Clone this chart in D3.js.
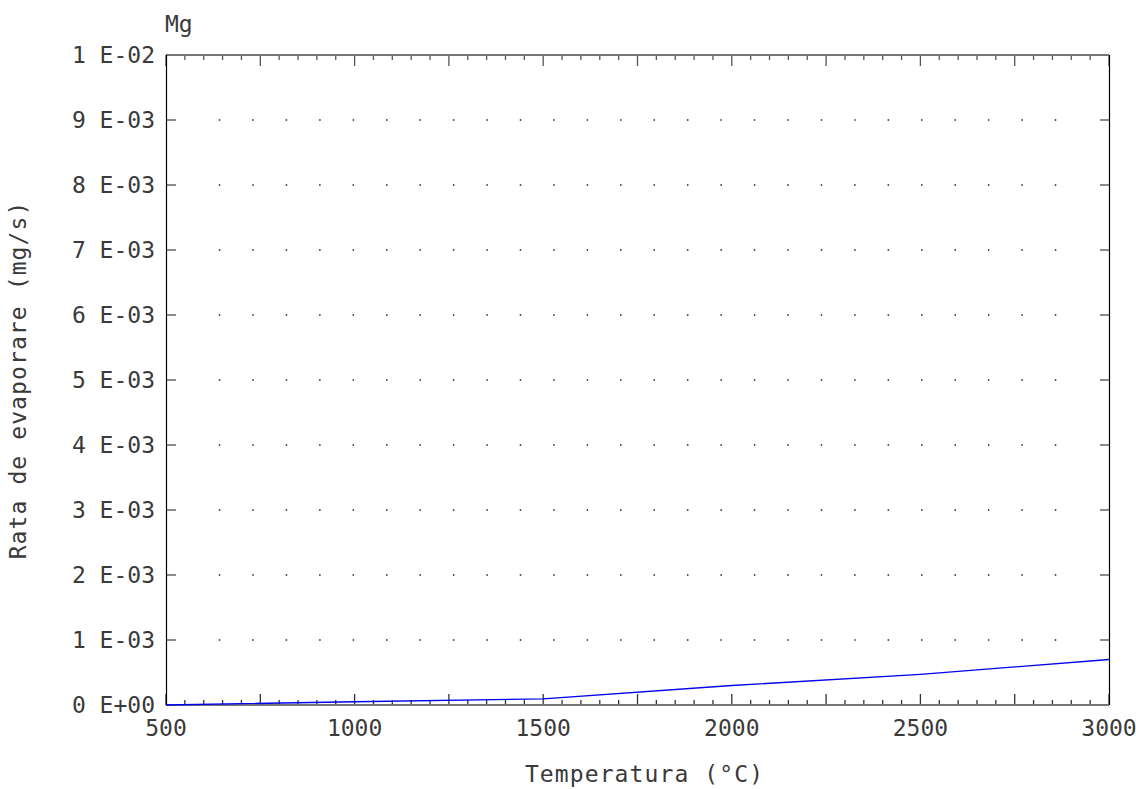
<!DOCTYPE html>
<html>
<head>
<meta charset="utf-8">
<script src="https://cdn.jsdelivr.net/npm/d3@7"></script>
<style>
  body { margin: 0; background: #fff; }
  text { font-family: "DejaVu Sans Mono", monospace; fill: #3a3a3a; }
</style>
</head>
<body>
<svg id="chart"></svg>
<script>
// data
var temps = [500, 1000, 1500, 2000, 2500, 3000];
var rates = [0, 0.00005, 0.000095, 0.0003, 0.00047, 0.0007];
var yTicks = [0, 0.001, 0.002, 0.003, 0.004, 0.005, 0.006, 0.007, 0.008, 0.009, 0.01];
var yTickLabels = ["0 E+00", "1 E-03", "2 E-03", "3 E-03", "4 E-03", "5 E-03",
                   "6 E-03", "7 E-03", "8 E-03", "9 E-03", "1 E-02"];
var xTicks = [500, 1000, 1500, 2000, 2500, 3000];

var margin = {top: 55, right: 27, bottom: 84, left: 166},
    W = 1136, H = 789,
    width = W - margin.left - margin.right,
    height = H - margin.top - margin.bottom;

var svg = d3.select("#chart")
    .attr("width", W)
    .attr("height", H);
var g = svg.append("g")
    .attr("transform", "translate(" + margin.left + "," + margin.top + ")");

var x = d3.scaleLinear().domain([500, 3000]).range([0, width]);
var y = d3.scaleLinear().domain([0, 0.01]).range([height, 0]);

// dotted grid
var dotX = d3.range(642, 2870, 88.65);
var dotY = yTicks.slice(1, -1);
dotY.forEach(function(v) {
    g.selectAll(null)
        .data(dotX)
        .enter().append("rect")
        .attr("x", function(d) { return x(d) - 0.75; })
        .attr("y", y(v) - 0.75)
        .attr("width", 1.5)
        .attr("height", 1.5)
        .attr("fill", "#222");
});

// x ticks (minor every 50, major every 250), bottom and top, pointing inside
var xMinor = d3.range(500, 3001, 50);
g.selectAll(".xb")
    .data(xMinor)
    .enter().append("line")
    .attr("x1", function(d) { return x(d); })
    .attr("x2", function(d) { return x(d); })
    .attr("y1", height)
    .attr("y2", function(d) { return height - (d % 250 == 0 ? 11 : 5); })
    .attr("stroke", "#333")
    .attr("stroke-width", 1.3);
g.selectAll(".xt")
    .data(xMinor)
    .enter().append("line")
    .attr("x1", function(d) { return x(d); })
    .attr("x2", function(d) { return x(d); })
    .attr("y1", 0)
    .attr("y2", function(d) { return (d % 250 == 0 ? 11 : 5); })
    .attr("stroke", "#555")
    .attr("stroke-width", 1.3);

// y ticks left and right
g.selectAll(".yl")
    .data(yTicks)
    .enter().append("line")
    .attr("x1", 0)
    .attr("x2", 10)
    .attr("y1", function(d) { return y(d); })
    .attr("y2", function(d) { return y(d); })
    .attr("stroke", "#666")
    .attr("stroke-width", 1.5);
g.selectAll(".yr")
    .data(yTicks)
    .enter().append("line")
    .attr("x1", width - 9)
    .attr("x2", width)
    .attr("y1", function(d) { return y(d); })
    .attr("y2", function(d) { return y(d); })
    .attr("stroke", "#666")
    .attr("stroke-width", 1.5);

// frame
g.append("line").attr("x1", 0).attr("x2", width).attr("y1", height).attr("y2", height)
    .attr("stroke", "#777").attr("stroke-width", 2);
g.append("line").attr("x1", 0).attr("x2", width).attr("y1", 0).attr("y2", 0)
    .attr("stroke", "#777").attr("stroke-width", 2);
g.append("line").attr("x1", 0.5).attr("x2", 0.5).attr("y1", 0).attr("y2", height)
    .attr("stroke", "#000").attr("stroke-width", 1.2);
g.append("line").attr("x1", width + 0.5).attr("x2", width + 0.5).attr("y1", 0).attr("y2", height)
    .attr("stroke", "#000").attr("stroke-width", 1.2);

// tick labels
g.selectAll(".ylab")
    .data(yTicks)
    .enter().append("text")
    .attr("x", -11)
    .attr("y", function(d) { return y(d); })
    .attr("dy", "0.36em")
    .attr("text-anchor", "end")
    .style("font-size", "23px")
    .text(function(d, i) { return yTickLabels[i]; });
g.selectAll(".xlab")
    .data(xTicks)
    .enter().append("text")
    .attr("x", function(d) { return x(d); })
    .attr("y", height + 31)
    .attr("text-anchor", "middle")
    .style("font-size", "23px")
    .text(function(d) { return d; });

// axis titles
g.append("text")
    .attr("x", width / 2 + 7)
    .attr("y", height + 77)
    .attr("text-anchor", "middle")
    .style("font-size", "23px")
    .style("letter-spacing", "1.1px")
    .text("Temperatura (°C)");
g.append("text")
    .attr("transform", "translate(" + (26 - margin.left) + "," + (height / 2) + ") rotate(-90)")
    .attr("text-anchor", "middle")
    .style("font-size", "23px")
    .style("letter-spacing", "1.1px")
    .text("Rata de evaporare (mg/s)");
g.append("text")
    .attr("x", -1)
    .attr("y", -23)
    .style("font-size", "23px")
    .text("Mg");

// curve
var line = d3.line()
    .x(function(d, i) { return x(temps[i]); })
    .y(function(d) { return y(d); });
g.append("path")
    .datum(rates)
    .attr("fill", "none")
    .attr("stroke", "#0000ee")
    .attr("stroke-width", 1.3)
    .attr("d", line);
</script>
</body>
</html>
